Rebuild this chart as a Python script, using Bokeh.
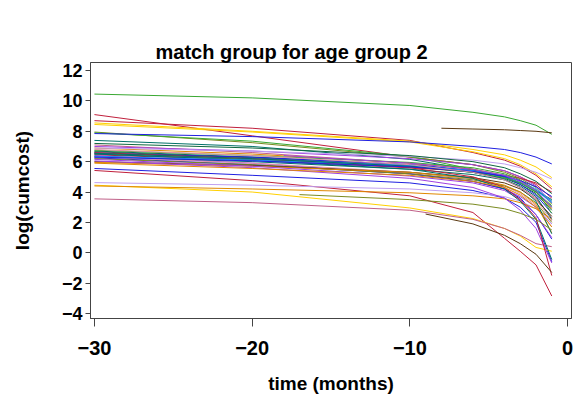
from bokeh.plotting import figure
from bokeh.models import Range1d, FixedTicker, LinearAxis, Title
from bokeh.embed import file_html
from bokeh.resources import INLINE

# ---- data ----
TIMES = [-30, -20, -10, -6, -4, -3, -2, -1]

s01 = [10.45, 10.2, 9.7, 9.25, 8.95, 8.7, 8.4, 7.8]
s02 = [9.1, 7.7, 6.3, 5.8, 5.4, 5.0, 4.5, 3.6]
s03 = [8.7, 8.2, 7.4, 6.6, 6.1, 5.7, 5.1, 4.2]
s04 = [8.55, 8.0, 7.35, 6.8, 6.45, 6.1, 5.65, 4.95]
s05 = [8.45, 7.95, 7.3, 6.65, 6.2, 5.8, 5.2, 4.35]
s06 = [7.95, 7.25, 6.3, 5.8, 5.3, 4.9, 4.3, 3.2]
s07 = [7.9, 7.35, 6.35, 5.5, 5.0, 4.6, 4.1, 3.4]
s08 = [7.85, 7.65, 7.3, 7.0, 6.8, 6.6, 6.3, 5.85]
s09 = [7.4, 7.0, 6.15, 5.45, 5.0, 4.6, 4.1, 3.5]
s10 = [7.1, 6.6, 5.9, 5.3, 4.8, 4.3, 3.6, 2.3]
s11 = [7.0, 6.7, 6.2, 5.8, 5.4, 5.0, 4.4, 3.3]
s12 = [6.9, 6.5, 5.9, 5.5, 5.1, 4.7, 4.0, 2.9]
s13 = [6.9, 6.7, 6.35, 6.1, 5.85, 5.6, 5.3, 4.85]
s14 = [6.7, 6.3, 5.8, 5.4, 5.0, 4.6, 4.0, 3.0]
s15 = [6.65, 6.25, 5.7, 5.3, 4.9, 4.5, 3.9, 2.8]
s16 = [6.6, 6.2, 5.7, 5.35, 5.0, 4.6, 4.1, 3.3]
s17 = [6.55, 6.3, 5.8, 5.4, 5.0, 4.5, 3.8, 2.6]
s18 = [6.5, 6.15, 5.65, 5.3, 4.95, 4.6, 4.0, 3.1]
s19 = [6.45, 6.1, 5.6, 5.35, 5.1, 4.9, 4.6, 4.0]
s20 = [6.4, 5.9, 5.2, 4.7, 4.2, 3.7, 3.0, 1.9]
s21 = [6.35, 6.0, 5.5, 5.15, 4.8, 4.4, 3.7, 2.2]
s22 = [6.3, 5.9, 5.3, 4.85, 4.4, 3.9, 3.1, 1.7]
s23 = [6.25, 5.8, 5.2, 4.7, 4.2, 3.6, 2.5, 0.9]
s24 = [6.2, 5.8, 5.2, 4.8, 4.4, 4.0, 3.3, 2.0]
s25 = [6.0, 5.75, 5.3, 4.95, 4.6, 4.2, 3.5, 2.4]
s26 = [5.95, 5.7, 5.3, 4.9, 4.45, 4.0, 3.2, 1.3]
s27 = [6.15, 5.7, 5.05, 4.6, 4.1, 3.5, 2.5, 1.0]
s28 = [5.55, 5.1, 4.6, 4.1, 3.6, 3.0, 2.0, -0.6]
s29 = [5.42, 4.75, 3.75, 2.65, 0.95, 0.1, -0.8, -2.85]
s30 = [4.62, 4.45, 4.2, 3.95, 3.7, 3.4, 2.9, 1.9]
s31 = [4.45, 4.0, 2.95, 2.25, 1.6, 1.1, 0.35, 0.1]
s32 = [4.4, 4.2, 3.95, 3.75, 3.55, 3.3, 2.9, 2.2]
s33 = [3.55, 3.3, 2.8, 2.2, 1.6, 1.15, 0.6, 0.4]
s36 = [6.5, 6.1, 5.5, 4.9, 4.2, 3.4, 2.2, -0.45]
s37 = [6.05, 5.6, 4.9, 4.3, 3.6, 2.8, 1.6, -0.67]
s38 = [6.6, 6.2, 5.6, 5.0, 4.3, 3.5, 2.3, -1.5]
s39 = [6.35, 6.1, 5.75, 5.4, 5.1, 4.7, 4.2, 3.4]
s40 = [6.75, 6.4, 5.95, 5.6, 5.2, 4.8, 4.1, 2.6]
s41 = [6.55, 6.2, 5.7, 5.3, 4.85, 4.3, 3.4, 1.25]
s42 = [6.3, 6.05, 5.65, 5.35, 5.05, 4.75, 4.35, 3.7]
s43 = [7.2, 6.9, 6.4, 6.0, 5.6, 5.2, 4.7, 3.9]
s44 = [5.9, 5.55, 5.1, 4.7, 4.3, 3.8, 3.0, 1.7]
s45 = [6.8, 6.4, 5.8, 5.3, 4.8, 4.3, 3.5, 2.1]

# series that start later than month -30
t46 = [-8, -6, -4, -3, -2, -1]
s46 = [8.2, 8.15, 8.1, 8.05, 8.0, 7.9]
t47 = [-17, -10, -6, -4, -3, -2, -1]
s47 = [3.83, 3.5, 3.2, 2.9, 2.6, 2.2, 1.5]
t48 = [-18, -10, -6, -4, -3, -2, -1]
s48 = [6.4, 5.9, 5.5, 5.1, 4.7, 4.1, 3.0]
t49 = [-9, -6, -4, -3, -2, -1]
s49 = [2.55, 1.9, 1.15, 0.6, -0.1, -1.3]

X_TICKS = [-30, -20, -10, 0]
X_TICK_LABELS = ["\u221230", "\u221220", "\u221210", "0"]
Y_TICKS = [-4, -2, 0, 2, 4, 6, 8, 10, 12]
Y_TICK_LABELS = ["\u22124", "\u22122", "0", "2", "4", "6", "8", "10", "12"]

TITLE = "match group for age group 2"
X_LABEL = "time (months)"
Y_LABEL = "log(cumcost)"

GREEN = "#3aa832"; RED = "#c0203c"; GOLD = "#ffd000"; BLUE = "#2020e0"
OLIVE = "#7a8a20"; TEAL = "#007068"; MAUVE = "#c06088"; PURPLE = "#a040e0"
LAV = "#c0a0f0"; ORANGE = "#e08800"; SKY = "#2090ff"; BROWN = "#5a3810"
DKGREEN = "#106840"; PINK = "#e090a8"

SERIES = [
    (TIMES, s01, GREEN), (TIMES, s02, RED), (TIMES, s03, RED), (TIMES, s04, GOLD),
    (TIMES, s05, GOLD), (TIMES, s06, OLIVE), (TIMES, s07, GREEN), (TIMES, s08, BLUE),
    (TIMES, s09, TEAL), (TIMES, s10, MAUVE), (TIMES, s11, PURPLE), (TIMES, s12, ORANGE),
    (TIMES, s13, LAV), (TIMES, s14, TEAL), (TIMES, s15, DKGREEN), (TIMES, s16, SKY),
    (TIMES, s17, BLUE), (TIMES, s18, GREEN), (TIMES, s19, RED), (TIMES, s20, PURPLE),
    (TIMES, s21, TEAL), (TIMES, s22, PINK), (TIMES, s23, BLUE), (TIMES, s24, OLIVE),
    (TIMES, s25, BROWN), (TIMES, s26, ORANGE), (TIMES, s27, PURPLE), (TIMES, s28, BLUE),
    (TIMES, s29, RED), (TIMES, s30, LAV), (TIMES, s31, GOLD), (TIMES, s32, ORANGE),
    (TIMES, s33, MAUVE), (TIMES, s36, TEAL), (TIMES, s37, PURPLE), (TIMES, s38, RED),
    (TIMES, s39, SKY), (TIMES, s40, GREEN), (TIMES, s41, TEAL), (TIMES, s42, BLUE),
    (TIMES, s43, DKGREEN), (TIMES, s44, ORANGE), (TIMES, s45, PINK),
    (t46, s46, BROWN), (t47, s47, OLIVE), (t48, s48, PURPLE), (t49, s49, BROWN),
]

FONT = "Liberation Sans"
W, H = 573, 405
LEFT, RIGHT, TOP, BOTTOM = 90, 2, 62, 87

p = figure(width=W, height=H, output_backend="svg", toolbar_location=None,
           x_range=Range1d(-30.25, 0.25), y_range=Range1d(-4.33, 12.53),
           min_border_left=LEFT, min_border_right=RIGHT, min_border_top=TOP,
           min_border_bottom=BOTTOM)

for tx, vy, col in SERIES:
    p.line(tx, vy, line_color=col, line_width=1)

xax = p.below[0]
yax = p.left[0]

# invisible spacer between frame and title: an axis above the frame with
# no ticks at all, so it draws nothing but takes up its tick length
spacer = LinearAxis(ticker=FixedTicker(ticks=[]), axis_line_color=None,
                    major_tick_line_color=None, minor_tick_line_color=None,
                    major_tick_out=30, major_tick_in=0, minor_tick_out=0,
                    major_label_text_font_size="0px")
p.add_layout(spacer, "above")

title = Title(text=TITLE, text_font=FONT, text_font_size="20px",
              text_font_style="bold", text_color="black", align="left",
              offset=65, standoff=0, vertical_align="bottom")
p.add_layout(title, "above")

p.grid.visible = False
p.outline_line_color = "#444444"
p.outline_line_width = 1

xax.ticker = FixedTicker(ticks=X_TICKS)
xax.major_label_overrides = dict(zip(X_TICKS, X_TICK_LABELS))
yax.ticker = FixedTicker(ticks=Y_TICKS)
yax.major_label_overrides = dict(zip(Y_TICKS, Y_TICK_LABELS))

xax.axis_label = X_LABEL
yax.axis_label = Y_LABEL

for ax in (xax, yax):
    ax.axis_line_color = "#444444"
    ax.major_tick_line_color = "#444444"
    ax.minor_tick_line_color = None
    ax.major_tick_in = 0
    ax.major_label_text_font = FONT
    ax.major_label_text_font_size = "18px"
    ax.major_label_text_font_style = "bold"
    ax.major_label_text_color = "black"
    ax.axis_label_text_font = FONT
    ax.axis_label_text_font_size = "19px"
    ax.axis_label_text_font_style = "bold"
    ax.axis_label_text_color = "black"

xax.major_label_text_font_size = "20px"
xax.major_tick_out = 8
xax.major_label_standoff = 14
xax.axis_label_standoff = 15
yax.major_tick_out = 5
yax.major_label_standoff = 3
yax.axis_label_standoff = 26

open("out.html", "w").write(file_html(p, INLINE))
